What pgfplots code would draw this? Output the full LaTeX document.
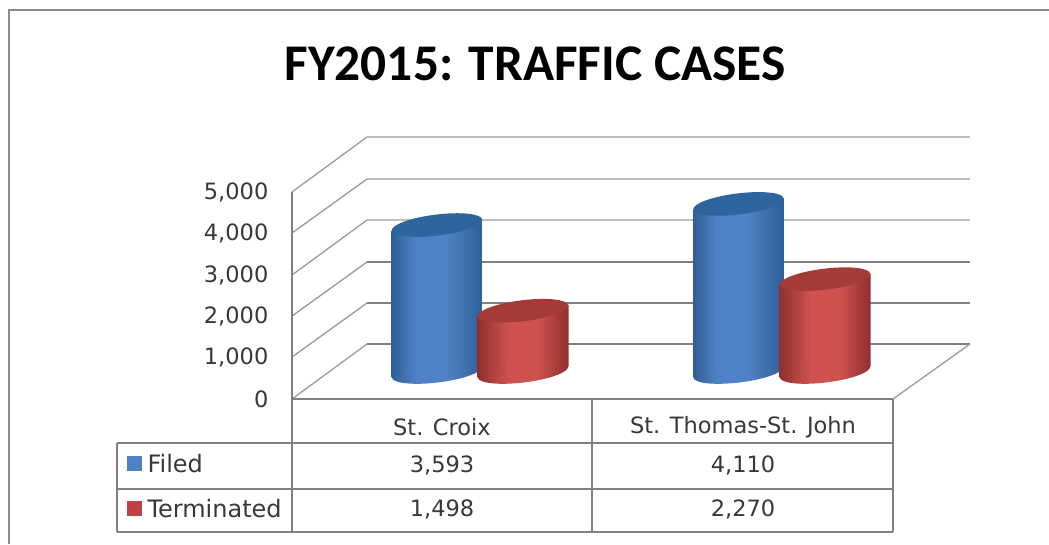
\documentclass[border=0pt]{standalone}
\usepackage{pgfplots}
\pgfplotsset{compat=1.18}
\usepackage{fontspec}
\setmainfont{DejaVu Sans}
\newfontfamily\titlefont{Carlito}
\definecolor{framegray}{HTML}{8C8C8C}
\definecolor{gridlight}{HTML}{BEBEBE}
\definecolor{griddark}{HTML}{7F7F7F}
\definecolor{wallgray}{HTML}{9A9A9A}
\definecolor{txt}{HTML}{383838}
\definecolor{bluemid}{HTML}{4F81C6}
\definecolor{blueedge}{HTML}{2F5F96}
\definecolor{bluetop}{HTML}{2E659F}
\definecolor{redmid}{HTML}{CF524F}
\definecolor{rededge}{HTML}{8F2F2D}
\definecolor{redtop}{HTML}{A43B38}
\definecolor{redkey}{HTML}{BC4345}
\pgfdeclarehorizontalshading{bluecyl}{100bp}{
 color(0bp)=(blueedge); color(25bp)=(blueedge); color(38bp)=(bluemid); color(55bp)=(bluemid); color(75bp)=(blueedge); color(100bp)=(blueedge)}
\pgfdeclarehorizontalshading{redcyl}{100bp}{
 color(0bp)=(rededge); color(25bp)=(rededge); color(42bp)=(redmid); color(58bp)=(redmid); color(75bp)=(rededge); color(100bp)=(rededge)}
\pgfdeclareplotmark{cap}{\pgfpathellipse{\pgfpointorigin}{\pgfqpoint{45.5pt}{0pt}}{\pgfqpoint{0pt}{10.5pt}}\pgfusepathqfill}
\pgfdeclareplotmark{botblue}{\pgfpathellipse{\pgfpointorigin}{\pgfqpoint{45.5pt}{0pt}}{\pgfqpoint{0pt}{10.5pt}}\pgfshadepath{bluecyl}{0}\pgfusepath{discard}}
\pgfdeclareplotmark{botred}{\pgfpathellipse{\pgfpointorigin}{\pgfqpoint{45.5pt}{0pt}}{\pgfqpoint{0pt}{10.5pt}}\pgfshadepath{redcyl}{0}\pgfusepath{discard}}
\pgfplotsset{cyl/.style={at={(0pt,0pt)},anchor=south west,scale only axis,width=1049pt,height=544pt,
  xmin=0,xmax=1049,ymin=-4205,ymax=9095,hide axis,clip=false}}
\begin{document}
\begin{tikzpicture}
% pixel layer: frame, walls, floor, table
\begin{axis}[name=px,at={(0pt,0pt)},anchor=south west,scale only axis,width=1049pt,height=544pt,
  xmin=0,xmax=1049,ymin=0,ymax=544,y dir=reverse,hide axis,clip=true]
\addplot[framegray,line width=1.6pt] coordinates {(9,544)(9,10)(1049,10)};
% back wall, upper three light, lower three dark
\addplot[gridlight,line width=2.5pt] coordinates {(367,137)(970,137)};
\addplot[gridlight,line width=2.5pt] coordinates {(367,179)(970,179)};
\addplot[gridlight,line width=2.5pt] coordinates {(367,220)(970,220)};
\addplot[griddark,line width=1.6pt] coordinates {(367,262)(970,262)};
\addplot[griddark,line width=1.6pt] coordinates {(367,303)(970,303)};
\addplot[griddark,line width=1.6pt] coordinates {(367,344)(970,344)};
% side wall
\addplot[wallgray,line width=1.3pt] coordinates {(292,192)(367,137)};
\addplot[wallgray,line width=1.3pt] coordinates {(292,233)(367,179)};
\addplot[wallgray,line width=1.3pt] coordinates {(292,275)(367,220)};
\addplot[wallgray,line width=1.3pt] coordinates {(292,316)(367,262)};
\addplot[wallgray,line width=1.3pt] coordinates {(292,357)(367,303)};
\addplot[wallgray,line width=1.3pt] coordinates {(292,399)(367,344)};
\addplot[wallgray,line width=1.3pt] coordinates {(893,399)(970,344)};
% table
\addplot[griddark,line width=1.3pt] coordinates {(292,192)(292,532)};
\addplot[griddark,line width=1.3pt] coordinates {(292,399)(893,399)};
\addplot[griddark,line width=1.3pt] coordinates {(592,399)(592,532)};
\addplot[griddark,line width=1.3pt] coordinates {(893,399)(893,532)};
\addplot[griddark,line width=1.3pt] coordinates {(117,443)(893,443)};
\addplot[griddark,line width=1.3pt] coordinates {(117,489)(893,489)};
\addplot[griddark,line width=1.3pt] coordinates {(117,532)(893,532)};
\addplot[griddark,line width=1.3pt] coordinates {(117,443)(117,532)};
\addplot[only marks,mark=square*,mark size=7pt,mark options={draw=bluemid,fill=bluemid}] coordinates {(134,463)};
\addplot[only marks,mark=square*,mark size=7pt,mark options={draw=redkey,fill=redkey}] coordinates {(134,508)};
\node[font=\titlefont\bfseries\fontsize{51.4}{51.4}\selectfont,text=black] at (axis cs:535,64) {FY2015: TRAFFIC CASES};
\node[font=\fontsize{22.5}{22.5}\selectfont,text=txt] at (axis cs:442,427) {St. Croix};
\node[font=\fontsize{22.5}{22.5}\selectfont,text=txt] at (axis cs:743,427) {St. Thomas-St. John};
\node[font=\fontsize{22.5}{22.5}\selectfont,text=txt] at (axis cs:442,465) {3,593};
\node[font=\fontsize{22.5}{22.5}\selectfont,text=txt] at (axis cs:743,465) {4,110};
\node[font=\fontsize{22.5}{22.5}\selectfont,text=txt] at (axis cs:442,509) {1,498};
\node[font=\fontsize{22.5}{22.5}\selectfont,text=txt] at (axis cs:743,509) {2,270};
\node[font=\fontsize{24}{24}\selectfont,text=txt,anchor=west] at (axis cs:144,464) {Filed};
\node[font=\fontsize{24}{24}\selectfont,text=txt,anchor=west] at (axis cs:144,509) {Terminated};
\end{axis}
% value axis
\begin{axis}[at={(292pt,145pt)},anchor=south west,scale only axis,width=100pt,height=206.5pt,
  xmin=0,xmax=1,ymin=0,ymax=5000,ytick={0,1000,2000,3000,4000,5000},
  axis y line=left,axis x line=none,axis line style={draw=none},tick style={draw=none},
  y tick label style={font=\fontsize{22.5}{22.5}\selectfont,text=txt,xshift=-18pt},
  /pgf/number format/assume math mode=true,
  /pgf/number format/1000 sep={,},
  scaled y ticks=false]
\addplot[draw=none] coordinates {(0,0)};
\end{axis}
% cylinders; y is the case count, x in picture pixels
\begin{axis}[cyl]
% St. Croix Filed
\addplot[only marks,mark=botblue,mark options={rotate=7}] coordinates {(437,0)};
\addplot[draw=none,shading=bluecyl] coordinates {(391.5,3458)(482.5,3728)(482.5,135)(391.5,-135)} -- cycle;
\addplot[only marks,mark=cap,mark options={rotate=7,draw=none,fill=bluetop}] coordinates {(437,3593)};
% St. Thomas Filed
\addplot[only marks,mark=botblue,mark options={rotate=7}] coordinates {(738.5,0)};
\addplot[draw=none,shading=bluecyl] coordinates {(693,3975)(784,4245)(784,135)(693,-135)} -- cycle;
\addplot[only marks,mark=cap,mark options={rotate=7,draw=none,fill=bluetop}] coordinates {(738.5,4110)};
\end{axis}
\begin{axis}[cyl]
% St. Croix Terminated
\addplot[only marks,mark=botred,mark options={rotate=7}] coordinates {(523,0)};
\addplot[draw=none,shading=redcyl] coordinates {(477.5,1363)(568.5,1633)(568.5,135)(477.5,-135)} -- cycle;
\addplot[only marks,mark=cap,mark options={rotate=7,draw=none,fill=redtop}] coordinates {(523,1498)};
% St. Thomas Terminated
\addplot[only marks,mark=botred,mark options={rotate=7}] coordinates {(825,0)};
\addplot[draw=none,shading=redcyl] coordinates {(779.5,2135)(870.5,2405)(870.5,135)(779.5,-135)} -- cycle;
\addplot[only marks,mark=cap,mark options={rotate=7,draw=none,fill=redtop}] coordinates {(825,2270)};
\end{axis}
\path[use as bounding box] (0,0) rectangle (1049pt,544pt);
\end{tikzpicture}
\end{document}
